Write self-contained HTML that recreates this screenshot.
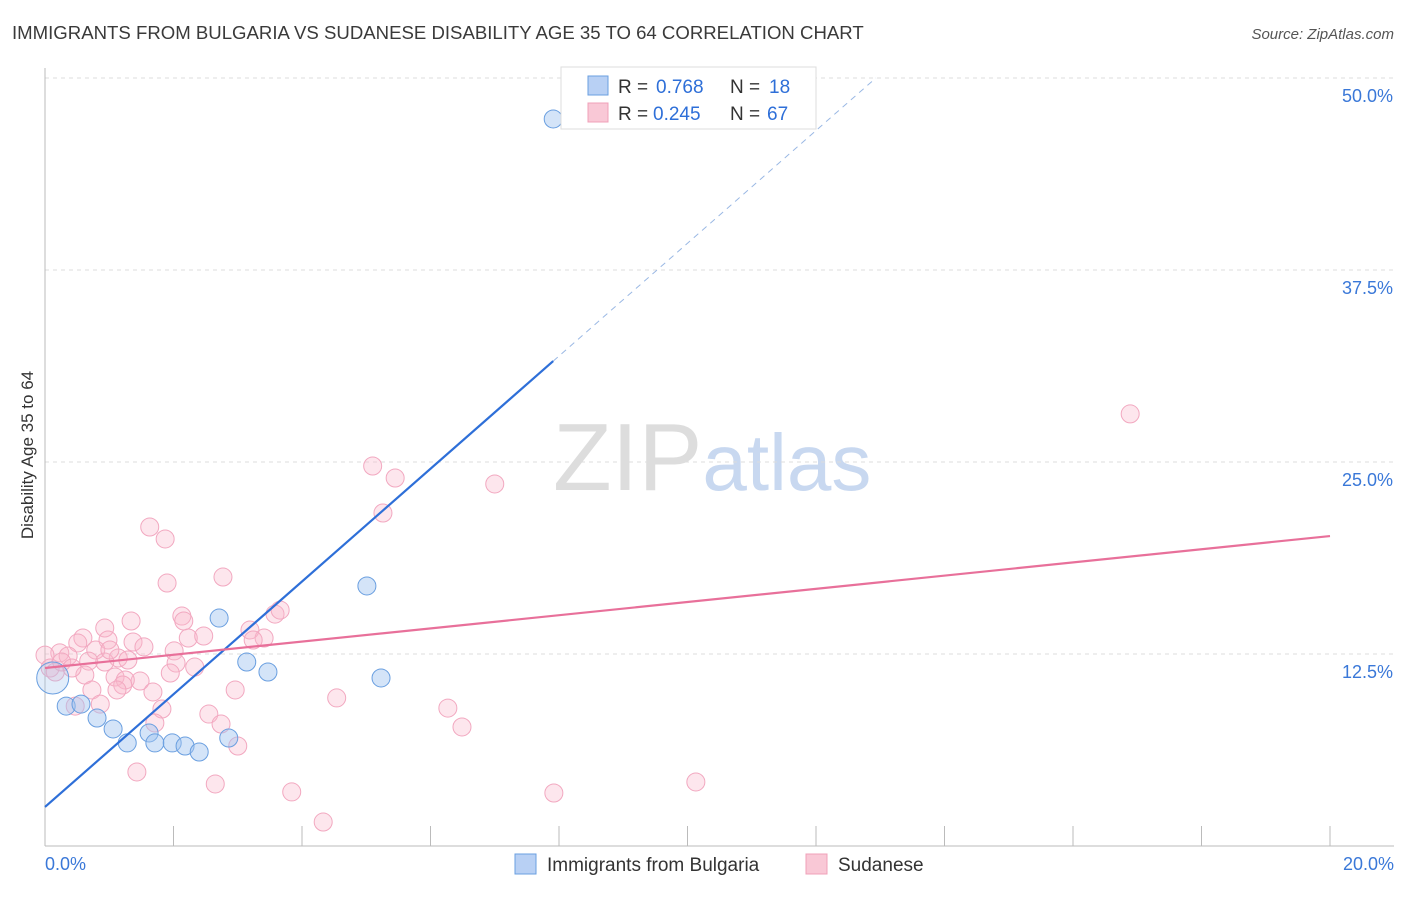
<!DOCTYPE html>
<html><head><meta charset="utf-8">
<style>
body{margin:0;background:#fff;font-family:"Liberation Sans",sans-serif;}
svg text{font-family:"Liberation Sans",sans-serif;}
</style></head>
<body>
<svg id="chart" width="1406" height="892" xmlns="http://www.w3.org/2000/svg">
<text x="12" y="39" font-size="18.6" fill="#3a3a3a">IMMIGRANTS FROM BULGARIA VS SUDANESE DISABILITY AGE 35 TO 64 CORRELATION CHART</text>
<text x="1394" y="39" font-size="15" fill="#555" text-anchor="end" font-style="italic">Source: ZipAtlas.com</text>
<text x="553" y="490" font-size="96" fill="#ddd" font-family="Liberation Serif">ZIP<tspan fill="#c8d8f0" font-family="Liberation Sans" font-size="80">atlas</tspan></text>
<text transform="translate(33,455) rotate(-90)" font-size="17" fill="#333" text-anchor="middle">Disability Age 35 to 64</text>
<g id="grid"></g>
<g id="axes"></g>
<g id="marks"></g>
<g>
<rect x="561" y="67" width="255" height="62" fill="#fff" stroke="#ddd"/>
<rect x="588" y="76" width="20" height="19" fill="#b8d0f4" stroke="#6a9fe0"/>
<text x="618" y="93" font-size="19" fill="#333">R =</text>
<text x="656" y="93" font-size="19" fill="#2e6fd8">0.768</text>
<text x="730" y="93" font-size="19" fill="#333">N =</text>
<text x="769" y="93" font-size="19" fill="#2e6fd8">18</text>
<rect x="588" y="103" width="20" height="19" fill="#f9c8d6" stroke="#f0a0b8"/>
<text x="618" y="120" font-size="19" fill="#333">R =</text>
<text x="653" y="120" font-size="19" fill="#2e6fd8">0.245</text>
<text x="730" y="120" font-size="19" fill="#333">N =</text>
<text x="767" y="120" font-size="19" fill="#2e6fd8">67</text>
</g>
<g>
<rect x="515" y="854" width="21" height="20" fill="#b8d0f4" stroke="#6a9fe0"/>
<text x="547" y="871" font-size="19" fill="#333">Immigrants from Bulgaria</text>
<rect x="806" y="854" width="21" height="20" fill="#f9c8d6" stroke="#f0a0b8"/>
<text x="838" y="871" font-size="19" fill="#333">Sudanese</text>
</g>
</svg>
<script>
const yTicks=[12.5,25.0,37.5,50.0];
const yTickLabels=["12.5%","25.0%","37.5%","50.0%"];
const xTickVals=[0,2,4,6,8,10,12,14,16,18,20];
const xEndLabels=["0.0%","20.0%"];
const blueX=[7.91,5.01,2.71,3.14,3.47,5.23,0.12,0.33,0.56,0.81,1.06,1.28,1.62,1.71,1.98,2.18,2.40,2.86];
const blueY=[47.33,16.93,14.84,11.98,11.33,10.94,10.94,9.11,9.24,8.33,7.62,6.71,7.36,6.71,6.71,6.51,6.12,7.03];
const pinkX=[16.89,7.00,5.10,5.45,5.26,1.63,1.87,1.90,2.77,2.13,2.16,1.34,3.58,0.93,3.19,0.59,0.98,0.51,1.37,1.54,2.23,2.47,3.41,3.24,2.01,0.23,0.79,0.36,1.14,0.68,0.93,2.04,1.29,2.33,0.00,0.08,0.16,0.62,1.09,1.48,1.25,1.95,1.21,0.73,1.68,1.12,2.96,4.54,2.55,1.82,0.86,0.47,1.71,2.74,6.27,6.49,3.00,1.43,2.65,3.84,4.33,7.92,10.13,0.26,0.42,1.01,3.66];
const pinkY=[28.13,23.57,24.74,23.96,21.68,20.77,19.99,17.12,17.51,14.97,14.65,14.65,15.10,14.19,14.06,13.54,13.41,13.22,13.28,12.96,13.54,13.67,13.54,13.41,12.70,12.57,12.76,12.37,12.24,12.04,11.98,11.91,12.11,11.65,12.43,11.59,11.33,11.13,11.00,10.74,10.81,11.26,10.48,10.16,10.03,10.16,10.16,9.64,8.59,8.92,9.24,9.11,8.01,7.94,8.98,7.75,6.51,4.82,4.04,3.52,1.56,3.45,4.17,11.98,11.59,12.76,15.36];
const blueTrend=[2.54,3.67];
const pinkTrend=[11.59,0.4295];
const X=v=>45+v/20*1285;
const Y=v=>846-v/12.5*192;
const NS="http://www.w3.org/2000/svg";
function mk(tag,attrs,parent){const e=document.createElementNS(NS,tag);for(const k in attrs)e.setAttribute(k,attrs[k]);parent.appendChild(e);return e;}
const grid=document.getElementById('grid'),axes=document.getElementById('axes'),marks=document.getElementById('marks');
yTicks.forEach((t,i)=>{
 const l=mk('line',{x1:45,x2:1394,y1:Y(t),y2:Y(t),stroke:'#ddd','stroke-dasharray':'4,4'},grid);
 
 
 const tx=mk('text',{x:1393,y:Y(t)+24,'font-size':18,fill:'#3a78d8','text-anchor':'end'},axes);
 tx.textContent=yTickLabels[i];
 
 
});
const yl=mk('line',{x1:45,x2:45,y1:68,y2:846,stroke:'#bbb'},axes);


const xl=mk('line',{x1:45,x2:1394,y1:846,y2:846,stroke:'#bbb'},axes);


xTickVals.forEach(t=>{
 const l=mk('line',{x1:X(t),x2:X(t),y1:826,y2:846,stroke:'#bbb'},axes);
 
 
});
const xt0=mk('text',{x:45,y:870,'font-size':18,fill:'#3a78d8'},axes);xt0.textContent=xEndLabels[0];


const xt1=mk('text',{x:1394,y:870,'font-size':18,fill:'#3a78d8','text-anchor':'end'},axes);xt1.textContent=xEndLabels[1];


pinkX.forEach((x,i)=>{
 const c=mk('circle',{cx:X(x),cy:Y(pinkY[i]),r:9,fill:'rgba(248,182,202,0.35)',stroke:'#f2a8c0','stroke-width':1},marks);
 
 
});
blueX.forEach((x,i)=>{
 const c=mk('circle',{cx:X(x),cy:Y(blueY[i]),r:(i==6?16:9),fill:(i==6?'rgba(160,196,240,0.3)':'rgba(160,196,240,0.45)'),stroke:'#6a9fe0','stroke-width':1},marks);
 
 
});
const bEnd=Math.max(...blueX);
const bl=mk('line',{x1:X(0),y1:Y(blueTrend[0]),x2:X(bEnd),y2:Y(blueTrend[0]+blueTrend[1]*bEnd),stroke:'#2e6fd8','stroke-width':2.2},marks);


const xTop=(50-blueTrend[0])/blueTrend[1];
const bd=mk('line',{x1:X(bEnd),y1:Y(blueTrend[0]+blueTrend[1]*bEnd),x2:X(xTop),y2:Y(50),stroke:'#9ab8e4','stroke-width':1,'stroke-dasharray':'6,5'},marks);


const pl=mk('line',{x1:X(0),y1:Y(pinkTrend[0]),x2:X(20),y2:Y(pinkTrend[0]+pinkTrend[1]*20),stroke:'#e8709a','stroke-width':2.2},marks);


</script>
</body></html>
